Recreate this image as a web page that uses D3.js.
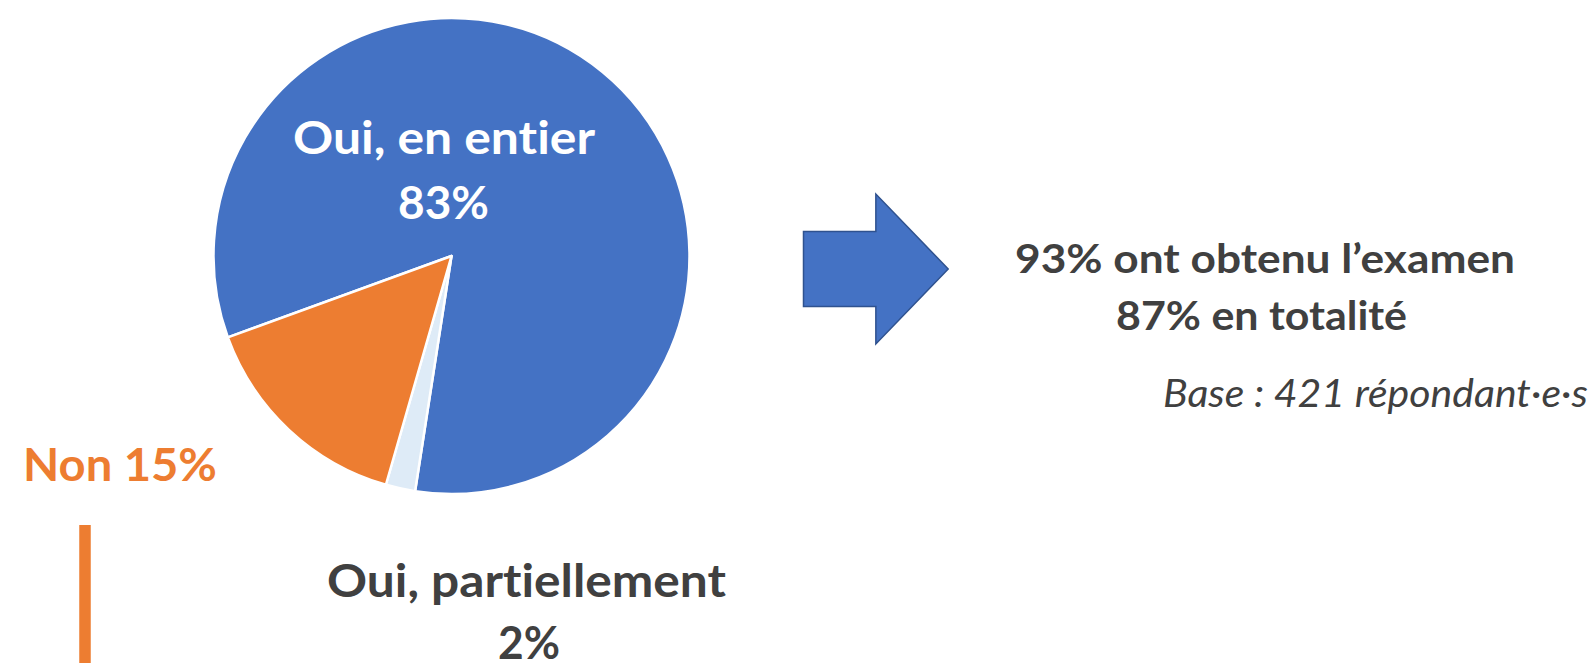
<!DOCTYPE html>
<html>
<head>
<meta charset="utf-8">
<script src="https://cdn.jsdelivr.net/npm/d3@7"></script>
<style>
  html, body { margin: 0; padding: 0; background: #ffffff; }
  svg { display: block; }
  text { font-variant-ligatures: none; font-feature-settings: "liga" 0, "clig" 0; }
</style>
</head>
<body>
<svg id="chart" width="1595" height="663"></svg>
<script>
// ---- data ----
const categories = ["Oui, en entier", "Oui, partiellement", "Non"];
const values = [83, 2, 15];
const labelLines = [["Oui, en entier", "83%"], ["Oui, partiellement", "2%"], ["Non 15%"]];
const summaryLines = ["93% ont obtenu l\u2019examen", "87% en totalité"];
const baseNote = "Base : 421 répondant\u00b7e\u00b7s";

// ---- styles ----
const colors = ["#4472C4", "#DEEBF7", "#ED7D31"];
const darkText = "#404040";
const fontBold = "Lato, 'Open Sans', sans-serif";

const svg = d3.select("#chart");
const W = 1595, H = 663;

// pie
const cx = 451.5, cy = 256, R = 238;
const deg = Math.PI / 180;
const pie = d3.pie().sort(null).value(d => d.value)
  .startAngle(-110 * deg).endAngle(250 * deg);
const arcs = pie(categories.map((c, i) => ({ cat: c, value: values[i] })));
const arc = d3.arc().innerRadius(0).outerRadius(R);

const g = svg.append("g").attr("transform", `translate(${cx},${cy})`);
g.selectAll("path").data(arcs).join("path")
  .attr("d", arc)
  .attr("fill", (d, i) => colors[i])
  .attr("stroke", "#ffffff")
  .attr("stroke-width", 2.5)
  .attr("stroke-linejoin", "round");

// helper for a text line fitted to a measured width
function line(txt, x, y, w, size, fill, opts = {}) {
  const t = svg.append("text")
    .attr("x", x).attr("y", y)
    .attr("font-family", fontBold)
    .attr("font-size", size)
    .attr("font-weight", opts.weight || 700)
    .attr("font-style", opts.italic ? "italic" : "normal")
    .attr("fill", fill)
    .text(txt);
  if (w) t.attr("textLength", w).attr("lengthAdjust", "spacingAndGlyphs");
  return t;
}

// pie labels
line(labelLines[0][0], 293, 154, 302, 46, "#ffffff");
line(labelLines[0][1], 398, 219, 91, 46, "#ffffff");
line(labelLines[1][0], 327, 597, 399, 46, darkText);
line(labelLines[1][1], 498, 659, 62, 46, darkText);
line(labelLines[2][0], 23, 481, 194, 46, colors[2]);

// orange vertical bar
svg.append("line")
  .attr("x1", 85).attr("x2", 85)
  .attr("y1", 525).attr("y2", H + 5)
  .attr("stroke", colors[2])
  .attr("stroke-width", 11.5);

// arrow
const ax = d3.scaleLinear().domain([0, 1]).range([803.5, 948.2]);
const ay = d3.scaleLinear().domain([0, 1]).range([194, 344]);
const arrowPts = [[0, 0.25], [0.5, 0.25], [0.5, 0], [1, 0.5], [0.5, 1], [0.5, 0.75], [0, 0.75]];
svg.append("path")
  .attr("d", d3.line().x(p => ax(p[0])).y(p => ay(p[1]))(arrowPts) + "Z")
  .attr("fill", colors[0])
  .attr("stroke", "#2F528F")
  .attr("stroke-width", 1.5)
  .attr("stroke-linejoin", "miter");

// summary text
line(summaryLines[0], 1015, 273, 500, 40, darkText);
line(summaryLines[1], 1116, 330, 291, 40, darkText);

// base note
line(baseNote, 1163, 407, 425, 38.5, darkText, { weight: 400, italic: true });
</script>
</body>
</html>
